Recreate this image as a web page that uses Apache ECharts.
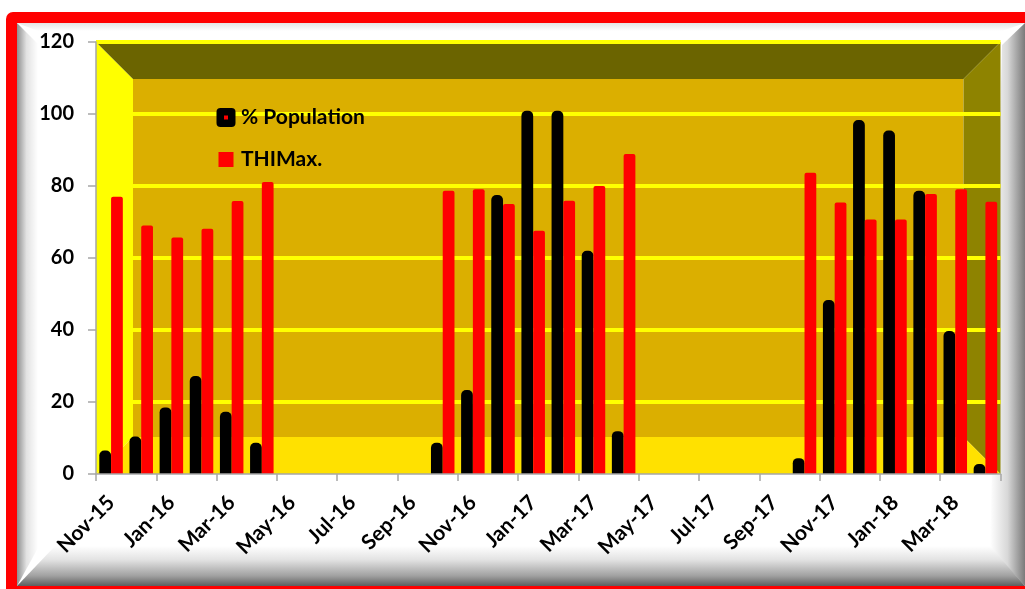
<!DOCTYPE html>
<html>
<head>
<meta charset="utf-8">
<style>
  html, body { margin: 0; padding: 0; background: #ffffff; }
  #chart { width: 1025px; height: 589px; }
</style>
<script src="https://cdn.jsdelivr.net/npm/echarts@6/dist/echarts.min.js"></script>
</head>
<body>
<div id="chart"></div>
<script>
// Monthly categories, Nov-15 to Apr-18
var months = ['Nov-15','Dec-15','Jan-16','Feb-16','Mar-16','Apr-16','May-16','Jun-16','Jul-16','Aug-16',
  'Sep-16','Oct-16','Nov-16','Dec-16','Jan-17','Feb-17','Mar-17','Apr-17','May-17','Jun-17',
  'Jul-17','Aug-17','Sep-17','Oct-17','Nov-17','Dec-17','Jan-18','Feb-18','Mar-18','Apr-18'];

// % Population (black bars)
var population = [6.5, 10.4, 18.5, 27.2, 17.3, 8.7, null, null, null, null,
  null, 8.7, 23.3, 77.5, 100.9, 100.9, 62.0, 11.9, null, null,
  null, null, null, 4.4, 48.3, 98.3, 95.4, 78.7, 39.7, 2.8];

// THIMax. (red bars)
var thiMax = [77.0, 69.0, 65.7, 68.1, 75.8, 81.1, null, null, null, null,
  null, 78.7, 79.1, 75.0, 67.6, 75.9, 80.0, 88.9, null, null,
  null, null, null, 83.7, 75.4, 70.7, 70.7, 77.8, 79.1, 75.6];

var yTicks = [0, 20, 40, 60, 80, 100, 120];

var FONT = 'Lato, "Open Sans", sans-serif';

function svgIcon(svg) {
  return 'image://data:image/svg+xml;charset=utf-8,' + encodeURIComponent(svg);
}
var popIcon = svgIcon('<svg xmlns="http://www.w3.org/2000/svg" width="20" height="20" viewBox="0 0 20 20">' +
  '<rect x="0.5" y="0.5" width="19" height="19" rx="4" ry="4" fill="#000"/>' +
  '<rect x="8" y="8" width="4" height="4" fill="#ff0000"/></svg>');
var thiIcon = svgIcon('<svg xmlns="http://www.w3.org/2000/svg" width="20" height="20" viewBox="0 0 20 20">' +
  '<rect x="2.5" y="2.5" width="15" height="15" fill="#ff0000"/></svg>');

// Frame and 3D plot walls (pixel layout of the page)
var L = 96, R = 1000.5, T = 42, B = 474, D = 37;   // plot box and wall depth
var frame = [
  // red outer border
  { type: 'rect', z: -30, shape: { x: 6, y: 12, width: 1040, height: 590, r: 7 }, style: { fill: '#ff0000' } },
  // white panel
  { type: 'rect', z: -29, shape: { x: 17, y: 23, width: 1030, height: 563 }, style: { fill: '#ffffff' } },
  // left bevel
  { type: 'polygon', z: -28, shape: { points: [[17, 23], [38, 44], [38, 548], [17, 586]] },
    style: { fill: { type: 'linear', x: 0, y: 0, x2: 1, y2: 0, colorStops: [
      { offset: 0, color: '#8e8e8e' }, { offset: 0.45, color: '#e2e2e2' }, { offset: 1, color: '#ffffff' }] } } },
  // top bevel
  { type: 'polygon', z: -28, shape: { points: [[17, 23], [1025, 23], [1002, 31], [38, 31]] },
    style: { fill: { type: 'linear', x: 0, y: 0, x2: 0, y2: 1, colorStops: [
      { offset: 0, color: '#e4e4e4' }, { offset: 1, color: '#ffffff' }] } } },
  // right bevel
  { type: 'polygon', z: -28, shape: { points: [[1002, 45], [1025, 23], [1025, 586], [990, 548]] },
    style: { fill: { type: 'linear', x: 0, y: 0, x2: 1, y2: 0, colorStops: [
      { offset: 0, color: '#ffffff' }, { offset: 0.5, color: '#d8d8d8' }, { offset: 1, color: '#7a7a7a' }] } } },
  // bottom bevel
  { type: 'polygon', z: -27, shape: { points: [[17, 586], [55, 546], [990, 546], [1025, 586]] },
    style: { fill: { type: 'linear', x: 0, y: 0, x2: 0, y2: 1, colorStops: [
      { offset: 0, color: '#ffffff' }, { offset: 0.35, color: '#e2e2e2' }, { offset: 0.75, color: '#a0a0a0' }, { offset: 1, color: '#5e5e5e' }] } } },
  // back wall
  { type: 'rect', z: -20, shape: { x: L + D, y: T + D, width: R - L - 2 * D, height: B - T - 2 * D }, style: { fill: '#dbaf00' } },
  // left wall
  { type: 'polygon', z: -20, shape: { points: [[L, T], [L + D, T + D], [L + D, B - D], [L, B]] }, style: { fill: '#ffff00' } },
  // ceiling
  { type: 'polygon', z: -20, shape: { points: [[L, T], [R, T], [R - D, T + D], [L + D, T + D]] }, style: { fill: '#6b6400' } },
  // right wall
  { type: 'polygon', z: -20, shape: { points: [[R - D, T + D], [R, T], [R, B], [R - D, B - D]] }, style: { fill: '#8e8300' } },
  // floor
  { type: 'polygon', z: -20, shape: { points: [[L, B], [L + D, B - D], [R - D, B - D], [R, B]] }, style: { fill: '#ffe100' } }
];

var chart = echarts.init(document.getElementById('chart'), null, { renderer: 'canvas' });
chart.setOption({
  animation: false,
  backgroundColor: '#ffffff',
  graphic: frame,
  grid: { left: L, right: 1025 - R, top: T, bottom: 589 - B, containLabel: false },
  legend: {
    orient: 'vertical',
    left: 216,
    top: 107,
    padding: 0,
    itemWidth: 20,
    itemHeight: 20,
    itemGap: 21,
    selectedMode: false,
    textStyle: { fontFamily: FONT, fontWeight: 'bold', fontSize: 21, color: '#000' },
    data: [
      { name: '% Population', icon: popIcon },
      { name: 'THIMax.', icon: thiIcon }
    ]
  },
  xAxis: {
    type: 'category',
    data: months,
    boundaryGap: true,
    axisLine: { show: true, lineStyle: { color: '#a6a6a6', width: 1.5 } },
    axisTick: { show: true, interval: 1, length: 7, lineStyle: { color: '#a6a6a6', width: 1.5 } },
    axisLabel: {
      interval: 1, rotate: 45, margin: 25,
      fontFamily: FONT, fontWeight: 'bold', fontSize: 21, color: '#000'
    },
    splitLine: { show: false },
    z: 5
  },
  yAxis: {
    type: 'value',
    min: yTicks[0],
    max: yTicks[yTicks.length - 1],
    interval: 20,
    axisLine: { show: true, lineStyle: { color: '#a6a6a6', width: 1.5 } },
    axisTick: { show: true, length: 8, lineStyle: { color: '#a6a6a6', width: 1.5 } },
    axisLabel: { margin: 22, fontFamily: FONT, fontWeight: 'bold', fontSize: 20, color: '#000' },
    splitLine: { show: true, showMinLine: false, lineStyle: { color: '#ffff00', width: 4 } }
  },
  series: [
    {
      name: '% Population',
      type: 'bar',
      data: population,
      barGap: '0%',
      barCategoryGap: '22%',
      itemStyle: { color: '#000000', borderRadius: [5, 5, 0, 0] },
      z: 3
    },
    {
      name: 'THIMax.',
      type: 'bar',
      data: thiMax,
      itemStyle: { color: '#ff0000', borderRadius: [2, 2, 0, 0] },
      z: 4
    }
  ]
});
</script>
</body>
</html>
